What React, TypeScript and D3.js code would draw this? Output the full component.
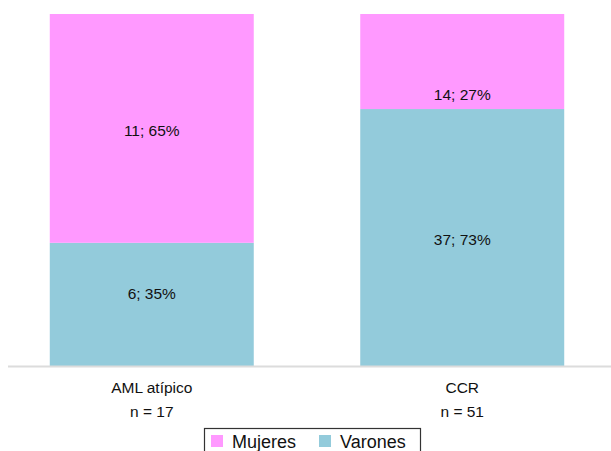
import React from "react";
import * as d3 from "d3";

const categories = ["AML atípico", "CCR"];
const nLabels = ["n = 17", "n = 51"];
const series = ["Varones", "Mujeres"];
const varonesCount = [6, 37];
const mujeresCount = [11, 14];
const varonesPct = [35, 73];
const mujeresPct = [65, 27];
// label anchor heights in percent units (as placed in the original)
const varonesLabelPos = [20.5, 36];
const mujeresLabelPos = [67, 77];
const colors: Record<string, string> = { Mujeres: "#FF99FF", Varones: "#93CBDB" };
const legendOrder = ["Mujeres", "Varones"];

const W = 611;
const H = 451;

export default function App() {
  const x = d3
    .scaleBand<string>()
    .domain(categories)
    .range([-3, 617])
    .paddingInner(0.343)
    .paddingOuter(0.17);
  const y = d3.scaleLinear().domain([0, 100]).range([366, 14]);

  const rows = categories.map((c, i) => ({
    cat: c,
    Varones: varonesPct[i],
    Mujeres: mujeresPct[i],
  }));
  const stack = d3.stack<any>().keys(series)(rows as any);
  const counts: Record<string, number[]> = { Varones: varonesCount, Mujeres: mujeresCount };
  const pcts: Record<string, number[]> = { Varones: varonesPct, Mujeres: mujeresPct };
  const lpos: Record<string, number[]> = { Varones: varonesLabelPos, Mujeres: mujeresLabelPos };
  const font = "'Liberation Sans', Arial, Helvetica, sans-serif";

  return (
    <svg
      width={W}
      height={H}
      style={{ position: "absolute", left: 0, top: 0, background: "#fff" }}
      fontFamily={font}
    >
      <rect x={0} y={0} width={W} height={H} fill="#fff" />
      {stack.map((layer) =>
        layer.map((d, i) => {
          const cat = categories[i];
          const yTop = Math.max(y(Math.min(d[1], 100)), 14);
          return (
            <rect
              key={layer.key + i}
              x={x(cat)}
              width={x.bandwidth()}
              y={yTop}
              height={y(d[0]) - yTop}
              fill={colors[layer.key]}
            />
          );
        })
      )}
      <line x1={8} x2={W} y1={366.5} y2={366.5} stroke="#dcdcdc" strokeWidth={2} />
      {series.map((s) =>
        categories.map((cat, i) => (
          <text
            key={s + cat}
            x={(x(cat) as number) + x.bandwidth() / 2}
            y={y(lpos[s][i])}
            textAnchor="middle"
            dominantBaseline="central"
            fontSize={15.5}
            fill="#111"
          >
            {`${counts[s][i]}; ${pcts[s][i]}%`}
          </text>
        ))
      )}
      {categories.map((cat, i) => (
        <g key={cat} transform={`translate(${(x(cat) as number) + x.bandwidth() / 2},0)`}>
          <text y={393} textAnchor="middle" fontSize={15.5} fill="#111">
            {cat}
          </text>
          <text y={417} textAnchor="middle" fontSize={15.5} fill="#111">
            {nLabels[i]}
          </text>
        </g>
      ))}
      <g>
        <rect x={204.5} y={428.5} width={216} height={40} fill="#fff" stroke="#333" strokeWidth={1.2} />
        {legendOrder.map((s, i) => {
          const lx = 211 + i * 108;
          return (
            <g key={s}>
              <rect x={lx} y={435} width={12} height={12} fill={colors[s]} />
              <text x={lx + 21} y={448} fontSize={18} fill="#111">
                {s}
              </text>
            </g>
          );
        })}
      </g>
    </svg>
  );
}
